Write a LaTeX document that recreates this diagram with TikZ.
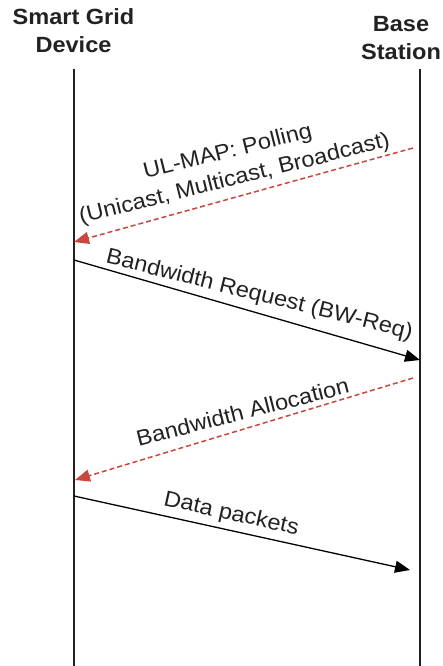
\documentclass[tikz,border=0pt]{standalone}
\usepackage{fontspec}
\setmainfont[FakeStretch=1.07]{Liberation Sans}
\usetikzlibrary{arrows.meta}

\definecolor{ink}{HTML}{222222}
\definecolor{pollred}{HTML}{C9473F}

\begin{document}
\begin{tikzpicture}[x=1pt,y=-1pt,
  title/.style={font=\fontsize{22}{28}\selectfont\bfseries, text=ink,
    align=center, inner sep=0pt, anchor=base},
  lifeline/.style={draw=ink, line width=1.6pt},
  tip/.style={-{Triangle[length=15pt,width=12pt]}},
  request/.style={tip, draw=black, line width=1.3pt},
  grant/.style={tip, draw=pollred, line width=1.5pt, dash pattern=on 5pt off 3pt},
  msg/.style={font=\fontsize{22}{28}\selectfont, text=ink, align=center,
    inner sep=0pt, anchor=base}]

  % canvas
  \fill[white] (0,0) rectangle (442,666);
  \useasboundingbox (0,0) rectangle (442,666);

  % participants (anchor base = baseline of the last line)
  \node[title] (sgd) at (73.5,53) {Smart Grid\\Device};
  \node[title] (bs)  at (401,60)  {Base\\Station};

  % lifelines
  \coordinate (sgd-top) at (74,69);
  \coordinate (sgd-bot) at (74,666);
  \coordinate (bs-top)  at (420,69);
  \coordinate (bs-bot)  at (420,666);
  \draw[lifeline] (sgd-top) -- (sgd-bot);
  \draw[lifeline] (bs-top) -- (bs-bot);

  % message end points
  \coordinate (poll-s)  at (413,148);
  \coordinate (poll-e)  at (74,242);
  \coordinate (req-s)   at (74,260);
  \coordinate (req-e)   at (420,360);
  \coordinate (alloc-s) at (413,378);
  \coordinate (alloc-e) at (75,480);
  \coordinate (data-s)  at (74,496);
  \coordinate (data-e)  at (410,570);

  % messages
  \draw[grant]   (poll-s)  -- (poll-e);
  \draw[request] (req-s)   -- (req-e);
  \draw[grant]   (alloc-s) -- (alloc-e);
  \draw[request] (data-s)  -- (data-e);

  % message labels
  \node[msg, rotate=14]    (poll-l)  at (236,185)   {UL-MAP: Polling\\(Unicast, Multicast, Broadcast)};
  \node[msg, rotate=-14]   (req-l)   at (258,301)   {Bandwidth Request (BW-Req)};
  \node[msg, rotate=14.3]  (alloc-l) at (244.5,419.5) {Bandwidth Allocation};
  \node[msg, rotate=-12.6] (data-l)  at (230,520)   {Data packets};
\end{tikzpicture}
\end{document}
